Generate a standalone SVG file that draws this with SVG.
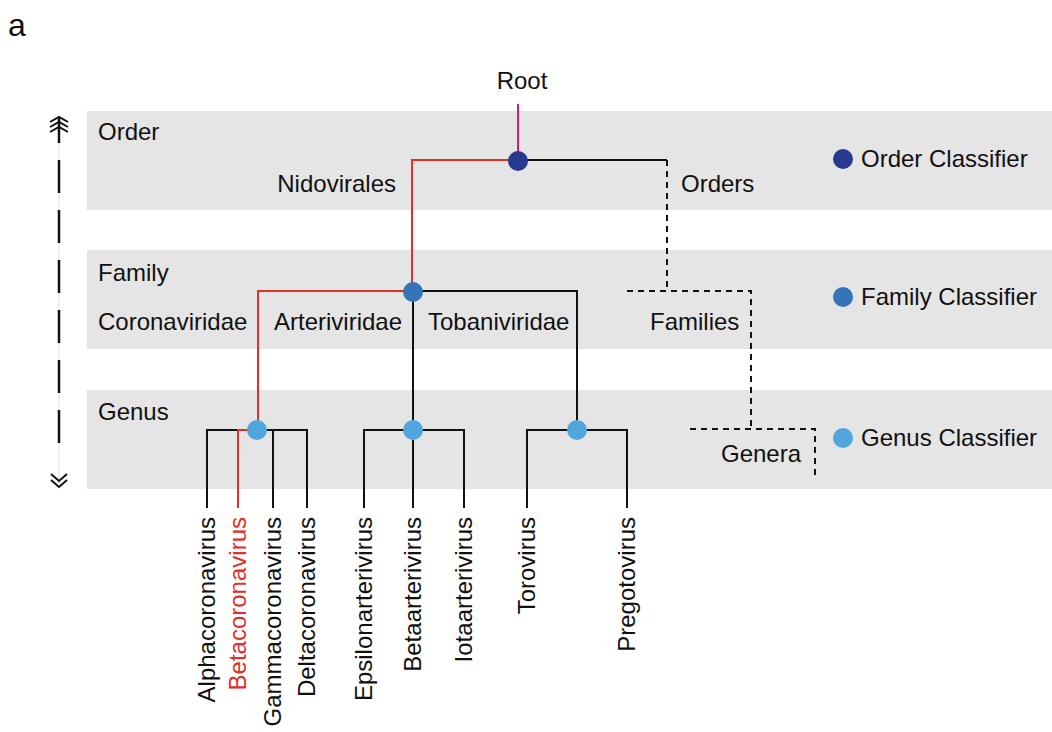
<svg xmlns="http://www.w3.org/2000/svg" width="1052" height="732" viewBox="0 0 1052 732">
<style>
text{font-family:"Liberation Sans",Arial,sans-serif;font-size:24px;fill:#111}
.band{fill:#e5e5e5}
.k{stroke:#111;stroke-width:2;fill:none}
.r{stroke:#e0302a;stroke-width:2;fill:none}
.d{stroke:#111;stroke-width:2;fill:none;stroke-dasharray:6,5}
.leaf{text-anchor:end}
</style>
<rect width="1052" height="732" fill="#fff"/>
<text x="8" y="36" style="font-size:32px">a</text>
<g id="bands">
<rect class="band" x="87" y="111" width="965" height="99"/>
<rect class="band" x="87" y="250" width="965" height="99"/>
<rect class="band" x="87" y="390" width="965" height="99"/>
</g>
<g id="axis">
<line x1="59" y1="128" x2="59" y2="484" stroke="#ddd" stroke-width="1"/>
<line x1="59" y1="117" x2="59" y2="143" stroke="#111" stroke-width="2.5"/>
<line x1="59" y1="160" x2="59" y2="450" stroke="#111" stroke-width="2.5" stroke-dasharray="33,17"/>
<path d="M50,122 L59,117 L68,122 M50,127 L59,122 L68,127 M50,132 L59,127 L68,132" fill="none" stroke="#111" stroke-width="2"/>
<path d="M51,474 L59,481 L67,474 M51,480 L59,487 L67,480" fill="none" stroke="#111" stroke-width="2"/>
</g>
<g id="labels">
<text x="98" y="140">Order</text>
<text x="98" y="281">Family</text>
<text x="98" y="420">Genus</text>
<text x="396" y="192" text-anchor="end">Nidovirales</text>
<text x="681" y="192">Orders</text>
<text x="98" y="330">Coronaviridae</text>
<text x="274" y="330">Arteriviridae</text>
<text x="428" y="330">Tobaniviridae</text>
<text x="650" y="330">Families</text>
<text x="721" y="462">Genera</text>
<text x="522" y="89" text-anchor="middle">Root</text>
</g>
<g id="connectors">
<line x1="518" y1="104" x2="518" y2="160" stroke="#d6198a" stroke-width="2"/>
<path class="r" d="M518,160 H412 V291"/>
<path class="k" d="M518,160 H667"/>
<path class="d" d="M667,160 V290"/>
<path class="d" d="M627,291 H751 V428"/>
<path class="d" d="M690,429 H815 V477"/>
<path class="r" d="M413,291 H258 V430"/>
<path class="k" d="M413,291 H577 V430"/>
<path class="k" d="M413,291 V430"/>
<path class="k" d="M207,508 V430 H307 V508"/>
<path class="k" d="M273,430 V508"/>
<path class="r" d="M257,430 H238 V508"/>
<path class="k" d="M364,508 V430 H464 V508"/>
<path class="k" d="M413,430 V508"/>
<path class="k" d="M527,508 V430 H627 V508"/>
</g>
<g id="node-order"><circle cx="518" cy="161" r="10" fill="#283a8e"/></g>
<g id="node-family"><circle cx="413" cy="292" r="10" fill="#3574b9"/></g>
<g id="node-genus-1"><circle cx="257" cy="430" r="10" fill="#4fa7de"/></g>
<g id="node-genus-2"><circle cx="413" cy="430" r="10" fill="#4fa7de"/></g>
<g id="node-genus-3"><circle cx="577" cy="430" r="10" fill="#4fa7de"/></g>
<g id="leaves">
<text class="leaf" transform="translate(215,517) rotate(-90)">Alphacoronavirus</text>
<text class="leaf" transform="translate(246,517) rotate(-90)" style="fill:#e0302a">Betacoronavirus</text>
<text class="leaf" transform="translate(281,517) rotate(-90)">Gammacoronavirus</text>
<text class="leaf" transform="translate(315,517) rotate(-90)">Deltacoronavirus</text>
<text class="leaf" transform="translate(372,517) rotate(-90)">Epsilonarterivirus</text>
<text class="leaf" transform="translate(421,517) rotate(-90)">Betaarterivirus</text>
<text class="leaf" transform="translate(472,517) rotate(-90)">Iotaarterivirus</text>
<text class="leaf" transform="translate(535,517) rotate(-90)">Torovirus</text>
<text class="leaf" transform="translate(635,517) rotate(-90)">Pregotovirus</text>
</g>
<g id="legend">
<circle cx="843" cy="159" r="10" fill="#283a8e"/>
<text x="861" y="167">Order Classifier</text>
<circle cx="843" cy="297" r="10" fill="#3574b9"/>
<text x="861" y="305">Family Classifier</text>
<circle cx="843" cy="438" r="10" fill="#4fa7de"/>
<text x="861" y="446">Genus Classifier</text>
</g>
</svg>
